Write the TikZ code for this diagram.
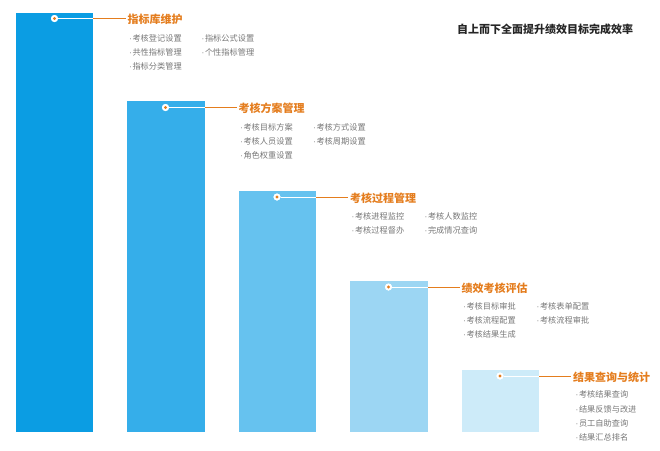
\documentclass[tikz,border=0pt]{standalone}
\usepackage{fontspec}
\usepackage{tikz}
\newfontfamily\cjk{Noto Sans CJK SC}
\newfontfamily\latin{Liberation Sans}
\definecolor{barA}{HTML}{0B9DE3}
\definecolor{barB}{HTML}{35AEEA}
\definecolor{barC}{HTML}{66C2EF}
\definecolor{barD}{HTML}{9CD6F3}
\definecolor{barE}{HTML}{CDEBF9}
\definecolor{accent}{HTML}{E47D1E}
\definecolor{itemgray}{HTML}{777777}
\tikzset{
	bar/.style={anchor=north west,inner sep=0pt,minimum width=77.5pt},
	dot/.style={circle,fill=white,inner sep=0pt,minimum size=7pt,path picture={\fill[accent] (path picture bounding box.center) circle (1.6pt);}},
	heading/.style={anchor=west,inner sep=0pt,text=accent,font=\cjk\bfseries\fontsize{11}{13}\selectfont},
	item/.style={anchor=west,inner sep=0pt,text=itemgray,font=\cjk\fontsize{8.2}{10}\selectfont},
}
\newcommand{\itm}[1]{{\latin·}\kern0.6pt#1}

\begin{document}
\begin{tikzpicture}[x=1pt,y=-1pt]
	\useasboundingbox (0,0) rectangle (660,450);
	\node[anchor=center,inner sep=0pt,text=black!85,font=\cjk\bfseries\fontsize{11}{13}\selectfont] (Title) at (545,29) {自上而下全面提升绩效目标完成效率};
	% bars
	\node[bar,fill=barA,minimum height=419pt] (B1) at (15.5,13) {};
	\node[bar,fill=barB,minimum height=331pt] (B2) at (127,101) {};
	\node[bar,fill=barC,minimum height=241pt] (B3) at (238.5,191) {};
	\node[bar,fill=barD,minimum height=151pt] (B4) at (350,281) {};
	\node[bar,fill=barE,minimum height=62pt] (B5) at (461.5,370) {};
	% dots and headings
	\node[dot] (D1) at (54.5,18.5) {};
	\node[dot] (D2) at (165.5,107.5) {};
	\node[dot] (D3) at (277,197) {};
	\node[dot] (D4) at (388.5,287) {};
	\node[dot] (D5) at (500,376) {};
	\node[heading] (L1) at (127.5,19.5) {指标库维护};
	\node[heading] (L2) at (238.5,108.5) {考核方案管理};
	\node[heading] (L3) at (350,198) {考核过程管理};
	\node[heading] (L4) at (461.5,288) {绩效考核评估};
	\node[heading] (L5) at (573,377.5) {结果查询与统计};
	\draw[white,line width=1pt] (D1) -- (D1 -| B1.east);
	\draw[white,line width=1pt] (D2) -- (D2 -| B2.east);
	\draw[white,line width=1pt] (D3) -- (D3 -| B3.east);
	\draw[white,line width=1pt] (D4) -- (D4 -| B4.east);
	\draw[white,line width=1pt] (D5) -- (D5 -| B5.east);
	\draw[accent,line width=1pt] (D1 -| B1.east) -- ([xshift=-2pt]L1.west |- D1);
	\draw[accent,line width=1pt] (D2 -| B2.east) -- ([xshift=-2pt]L2.west |- D2);
	\draw[accent,line width=1pt] (D3 -| B3.east) -- ([xshift=-2pt]L3.west |- D3);
	\draw[accent,line width=1pt] (D4 -| B4.east) -- ([xshift=-2pt]L4.west |- D4);
	\draw[accent,line width=1pt] (D5 -| B5.east) -- ([xshift=-2pt]L5.west |- D5);
	\node[dot] at (D1) {};
	\node[dot] at (D2) {};
	\node[dot] at (D3) {};
	\node[dot] at (D4) {};
	\node[dot] at (D5) {};
	% items
	\node[item] (I11) at (129,38) {\itm{考核登记设置}};
	\node[item] (I12) at (129,52) {\itm{共性指标管理}};
	\node[item] (I13) at (129,66) {\itm{指标分类管理}};
	\node[item] (I14) at (201.5,38) {\itm{指标公式设置}};
	\node[item] (I15) at (201.5,52) {\itm{个性指标管理}};
	\node[item] (I21) at (240,127) {\itm{考核目标方案}};
	\node[item] (I22) at (240,141) {\itm{考核人员设置}};
	\node[item] (I23) at (240,155) {\itm{角色权重设置}};
	\node[item] (I24) at (313,127) {\itm{考核方式设置}};
	\node[item] (I25) at (313,141) {\itm{考核周期设置}};
	\node[item] (I31) at (351.5,216) {\itm{考核进程监控}};
	\node[item] (I32) at (351.5,230.5) {\itm{考核过程督办}};
	\node[item] (I33) at (424.5,216) {\itm{考核人数监控}};
	\node[item] (I34) at (424.5,230.5) {\itm{完成情况查询}};
	\node[item] (I41) at (463,306) {\itm{考核目标审批}};
	\node[item] (I42) at (463,320) {\itm{考核流程配置}};
	\node[item] (I43) at (463,334) {\itm{考核结果生成}};
	\node[item] (I44) at (536.5,306) {\itm{考核表单配置}};
	\node[item] (I45) at (536.5,320) {\itm{考核流程审批}};
	\node[item] (I51) at (575.5,394.5) {\itm{考核结果查询}};
	\node[item] (I52) at (575.5,409) {\itm{结果反馈与改进}};
	\node[item] (I53) at (575.5,423) {\itm{员工自助查询}};
	\node[item] (I54) at (575.5,437.5) {\itm{结果汇总排名}};
\end{tikzpicture}
\end{document}
